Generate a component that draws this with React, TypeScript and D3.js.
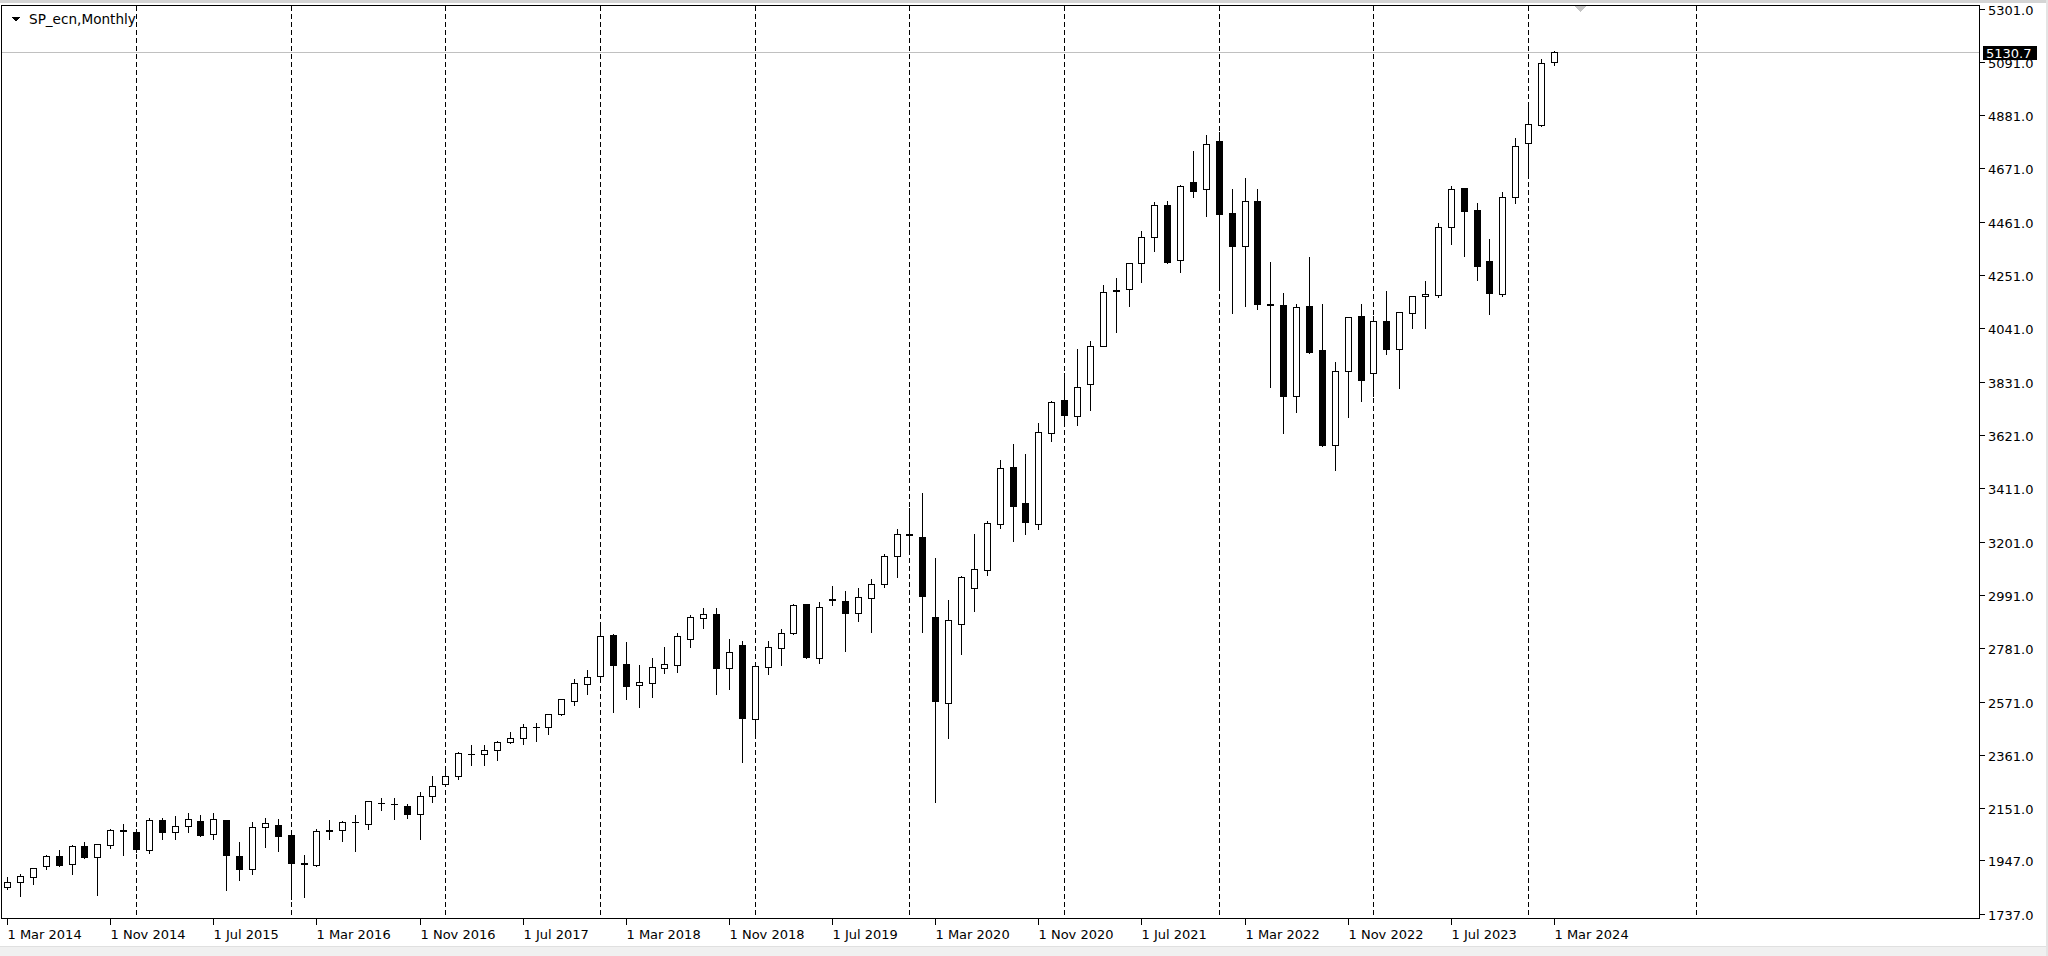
import React from "react";
import * as d3 from "d3";

// Monthly bars, 1 Mar 2014 .. 1 Mar 2024 (121 bars)
const opens = [
  1840, 1861, 1880, 1925, 1964, 1931, 2003, 1961, 2006, 2066,
  2056, 1988, 2106, 2057, 2083, 2103, 2051, 2106, 1964, 1912, 2078, 2086,
  2047, 1935, 1929, 2066, 2064, 2096, 2089, 2173, 2170, 2162, 2128, 2198,
  2248, 2279, 2364, 2365, 2381, 2414, 2427, 2471, 2471, 2522, 2572, 2641,
  2673, 2834, 2719, 2635, 2646, 2703, 2716, 2818, 2900, 2916, 2703, 2795,
  2502, 2706, 2782, 2841, 2955, 2743, 2970, 2968, 2919, 2979, 3035, 3143,
  3232, 3221, 2904, 2565, 2876, 3020, 3090, 3270, 3494, 3355, 3270, 3631,
  3760, 3696, 3822, 3973, 4188, 4195, 4297, 4400, 4527, 4311, 4617, 4589,
  4780, 4494, 4366, 4544, 4137, 4133, 3775, 4129, 3956, 3582, 3874, 4090,
  3864, 4070, 3960, 4101, 4170, 4173, 4442, 4593, 4508, 4307, 4178, 4558,
  4772, 4842, 5089,
];
const highs = [
  1885, 1896, 1922, 1971, 1990, 2010, 2023, 2014, 2073, 2093,
  2072, 2117, 2117, 2126, 2136, 2129, 2136, 2109, 2023, 2103, 2118, 2112,
  2050, 1972, 2073, 2110, 2106, 2130, 2182, 2195, 2195, 2172, 2220, 2283,
  2306, 2375, 2405, 2404, 2421, 2454, 2487, 2493, 2524, 2587, 2664, 2700,
  2887, 2841, 2811, 2720, 2746, 2791, 2847, 2917, 2943, 2943, 2821, 2815,
  2714, 2815, 2861, 2958, 2959, 2968, 3031, 3011, 3024, 3058, 3158, 3254,
  3339, 3398, 3140, 2975, 3070, 3235, 3287, 3527, 3589, 3550, 3672, 3759,
  3868, 3963, 3996, 4216, 4242, 4300, 4429, 4543, 4547, 4610, 4744, 4807,
  4818, 4593, 4636, 4593, 4307, 4186, 4142, 4326, 4140, 3913, 4088, 4140,
  4094, 4192, 4109, 4172, 4232, 4459, 4606, 4597, 4540, 4396, 4584, 4794,
  4934, 5105, 5137,
];
const lows = [
  1832, 1804, 1854, 1912, 1925, 1892, 1955, 1808, 1994, 1968,
  1980, 1975, 2030, 2030, 2057, 2043, 2030, 1828, 1867, 1893, 2000, 1985,
  1796, 1802, 1925, 2031, 2024, 1985, 2069, 2145, 2109, 2113, 2031, 2178,
  2244, 2266, 2322, 2322, 2342, 2408, 2405, 2418, 2444, 2520, 2559, 2602,
  2670, 2532, 2582, 2552, 2589, 2683, 2690, 2786, 2861, 2602, 2622, 2335,
  2438, 2681, 2716, 2838, 2745, 2723, 2950, 2772, 2887, 2847, 3024, 3064,
  3166, 2847, 2178, 2430, 2759, 2930, 3070, 3254, 3204, 3231, 3250, 3599,
  3661, 3661, 3720, 3970, 4028, 4130, 4225, 4346, 4297, 4264, 4557, 4485,
  4195, 4101, 4131, 4118, 3809, 3628, 3711, 3946, 3578, 3484, 3694, 3757,
  3775, 3941, 3805, 4042, 4042, 4164, 4372, 4328, 4232, 4098, 4170, 4536,
  4652, 4840, 5078,
];
const closes = [
  1862, 1883, 1918, 1964, 1927, 2003, 1959, 2009, 2066, 2060,
  1990, 2106, 2056, 2080, 2109, 2047, 2109, 1968, 1912, 2077, 2092, 2044,
  1935, 1932, 2060, 2061, 2097, 2098, 2181, 2171, 2168, 2130, 2198, 2241,
  2280, 2368, 2367, 2381, 2414, 2427, 2471, 2473, 2522, 2581, 2644, 2668,
  2828, 2716, 2633, 2650, 2707, 2719, 2828, 2904, 2916, 2703, 2765, 2506,
  2712, 2788, 2841, 2953, 2749, 2946, 2976, 2919, 2985, 3035, 3143, 3232,
  3226, 2989, 2572, 2891, 3061, 3093, 3276, 3493, 3343, 3280, 3632, 3753,
  3700, 3809, 3973, 4183, 4192, 4297, 4400, 4527, 4301, 4603, 4582, 4767,
  4492, 4366, 4544, 4137, 4134, 3775, 4127, 3950, 3582, 3874, 4085, 3838,
  4070, 3959, 4107, 4170, 4178, 4440, 4590, 4505, 4288, 4182, 4560, 4761,
  4845, 5085, 5130.7,
];

const xTickLabels = [
  "1 Mar 2014", "1 Nov 2014", "1 Jul 2015", "1 Mar 2016", "1 Nov 2016",
  "1 Jul 2017", "1 Mar 2018", "1 Nov 2018", "1 Jul 2019", "1 Mar 2020",
  "1 Nov 2020", "1 Jul 2021", "1 Mar 2022", "1 Nov 2022", "1 Jul 2023",
  "1 Mar 2024",
];
const xTickBars = [0, 8, 16, 24, 32, 40, 48, 56, 64, 72, 80, 88, 96, 104, 112, 120];
const yTickValues = [
  1737, 1947, 2151, 2361, 2571, 2781, 2991, 3201, 3411, 3621, 3831, 4041,
  4251, 4461, 4671, 4881, 5091, 5301,
];
const separatorBars = [10, 22, 34, 46, 58, 70, 82, 94, 106, 118, 131];
const lastPrice = 5130.7;
const title = "SP_ecn,Monthly";

const W = 2048;
const H = 956;
const FONT = "'DejaVu Sans', Tahoma, sans-serif";

export default function App() {
  const x = d3.scaleLinear().domain([0, 120]).range([7.1, 1553.9]);
  const y = d3.scaleLinear().domain([1737, 5301]).range([913.5, 8.5]);

  const left = 1.5;
  const top = 5.5;
  const right = 1979.5;
  const bottom = 918.5;

  const snap = (v: number) => Math.round(v) + 0.5;

  const candles = opens.map((o, i) => {
    const c = closes[i];
    const hi = highs[i];
    const lo = lows[i];
    const cx = Math.round(x(i));
    const wx = cx + 0.5;
    const bull = c >= o;
    const yt = snap(y(Math.max(o, c)));
    const yb = snap(y(Math.min(o, c)));
    const h = yb - yt;
    return (
      <g key={i}>
        <line x1={wx} x2={wx} y1={snap(y(hi))} y2={snap(y(lo))} stroke="#000" strokeWidth={1} />
        {h < 1 ? (
          <line x1={cx - 3} x2={cx + 4} y1={yt} y2={yt} stroke="#000" strokeWidth={1} />
        ) : (
          <rect
            x={cx - 2.5}
            y={yt}
            width={6}
            height={h}
            fill={bull ? "#fff" : "#000"}
            stroke="#000"
            strokeWidth={1}
          />
        )}
      </g>
    );
  });

  const priceY = snap(y(lastPrice));

  return (
    <svg
      width={W}
      height={H}
      style={{ position: "absolute", left: 0, top: 0, background: "#fff" }}
      fontFamily={FONT}
      shapeRendering="crispEdges"
    >
      {/* window chrome */}
      <rect x={0} y={0} width={W} height={3} fill="#d4d4d4" />
      <rect x={0} y={947} width={W} height={9} fill="#f0f0f0" />
      <line x1={0} x2={W} y1={946.5} y2={946.5} stroke="#e0e0e0" />
      <rect x={2046} y={0} width={2} height={H} fill="#e4e4e4" />

      {/* period separators */}
      {separatorBars.map((b) => {
        const sx = snap(x(b));
        return (
          <line
            key={"sep" + b}
            x1={sx}
            x2={sx}
            y1={top}
            y2={bottom}
            stroke="#000"
            strokeWidth={1}
            strokeDasharray="5,3"
          />
        );
      })}

      {/* last price line */}
      <line x1={left} x2={right} y1={priceY} y2={priceY} stroke="#c0c0c0" strokeWidth={1} />

      {/* candles */}
      {candles}

      {/* chart frame */}
      <rect
        x={left}
        y={top}
        width={right - left}
        height={bottom - top}
        fill="none"
        stroke="#000"
        strokeWidth={1}
      />

      {/* title */}
      <polygon points="12,17 20,17 16,21.5" fill="#000" />
      <text x={29} y={23.5} fontSize={13.6} fill="#000">
        {title}
      </text>

      {/* chart shift marker */}
      <polygon points="1574,6 1586,6 1580,12" fill="#c4c4c4" />

      {/* price axis */}
      {yTickValues.map((v) => {
        const ty = snap(y(v));
        return (
          <g key={"y" + v}>
            <line x1={right} x2={right + 5} y1={ty} y2={ty} stroke="#000" />
            <text x={1988} y={ty + 5.5} fontSize={13} fill="#000">
              {v.toFixed(1)}
            </text>
          </g>
        );
      })}

      {/* last price tag (drawn over the nearby axis label, as in the terminal) */}
      <rect x={1983} y={priceY - 6.5} width={54} height={14} fill="#000" />
      <text x={1986} y={priceY + 5} fontSize={13} fill="#fff">
        {lastPrice.toFixed(1)}
      </text>

      {/* time axis */}
      {xTickBars.map((b, k) => {
        const tx = snap(x(b));
        return (
          <g key={"x" + b}>
            <line x1={tx} x2={tx} y1={bottom} y2={bottom + 6} stroke="#000" />
            <text x={tx} y={939} fontSize={13} fill="#000">
              {xTickLabels[k]}
            </text>
          </g>
        );
      })}
    </svg>
  );
}
